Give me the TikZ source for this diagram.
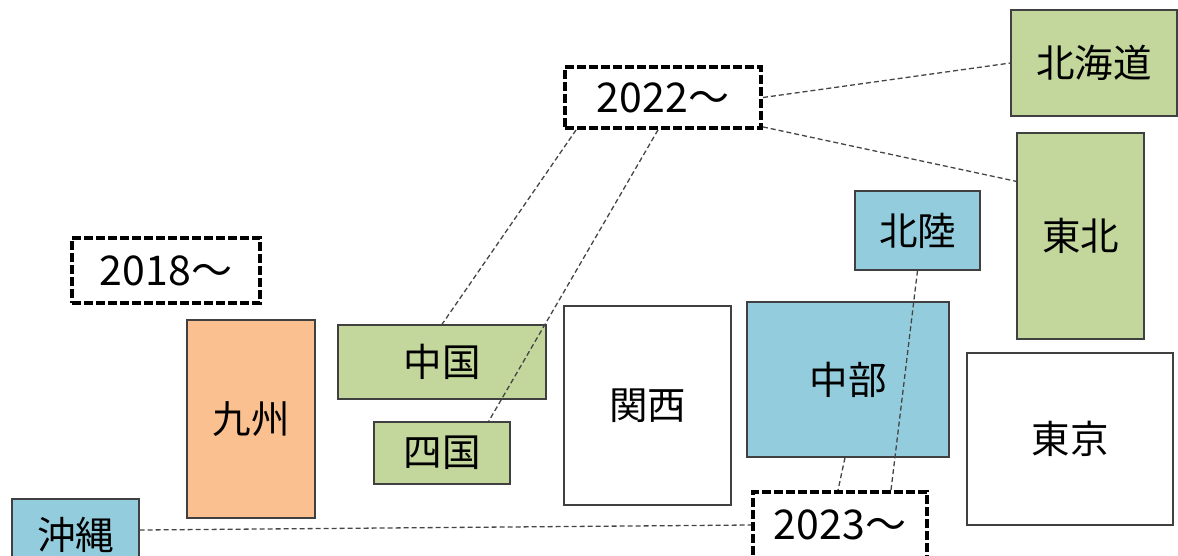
\documentclass[tikz,border=0pt]{standalone}
\usepackage{fontspec}
\newfontfamily\jp{Noto Sans CJK JP}
\usetikzlibrary{calc}
\definecolor{regGreen}{HTML}{C3D69B}
\definecolor{regBlue}{HTML}{93CDDD}
\definecolor{regOrange}{HTML}{FAC090}
\definecolor{edgeGray}{HTML}{404040}
\definecolor{linkGray}{HTML}{454545}
\tikzset{
  region/.style={draw=edgeGray, line width=1.3pt, inner sep=0pt, font=\jp\fontsize{38.5}{42}\selectfont, text=black},
  yearbox/.style={draw=black, fill=white, line width=3.8pt, dash pattern=on 9pt off 3pt, inner sep=0pt, font=\jp\fontsize{41}{44}\selectfont},
  link/.style={draw=linkGray, line width=1.3pt, dash pattern=on 5pt off 3pt}
}
\begin{document}
\begin{tikzpicture}[x=1pt,y=-1pt]
\useasboundingbox (0,0) rectangle (1178,555);
\clip (0,0) rectangle (1178,555);
% regions
\node[region, fill=regGreen, minimum width=166pt, minimum height=106pt] (hokkaido) at (1094,63) {北海道};
\node[region, fill=regGreen, minimum width=127pt, minimum height=206pt] (tohoku) at (1080.5,236) {東北};
\node[region, fill=regBlue, minimum width=125pt, minimum height=79pt] (hokuriku) at (917.5,230.5) {北陸};
\node[region, fill=regBlue, minimum width=202pt, minimum height=155pt] (chubu) at (848,379.5) {中部};
\node[region, fill=white, minimum width=206pt, minimum height=172pt] (tokyo) at (1070,439) {東京};
\node[region, fill=regOrange, minimum width=128pt, minimum height=198pt] (kyushu) at (251,419) {九州};
\node[region, fill=white, minimum width=167pt, minimum height=199pt] (kansai) at (647.5,405.5) {関西};
\node[region, fill=regGreen, minimum width=208pt, minimum height=74pt] (chugoku) at (442,362) {中国};
\node[region, fill=regGreen, minimum width=136pt, minimum height=62pt] (shikoku) at (442,453) {四国};
\node[region, fill=regBlue, minimum width=127pt, minimum height=72pt] (okinawa) at (75.5,535) {沖縄};
% year boxes
\node[yearbox, minimum width=196pt, minimum height=61pt] (y2022) at (663,97.5) {2022～};
\node[yearbox, minimum width=188pt, minimum height=65pt] (y2018) at (166,270.5) {2018～};
\node[yearbox, minimum width=174pt, minimum height=66pt] (y2023) at (840,525) {2023～};
% connectors
\draw[link] (y2022.east) -- (hokkaido.west);
\draw[link] ([yshift=3pt]y2022.south east) -- ([yshift=-49pt]tohoku.north west);
\draw[link] ([xshift=13pt]y2022.south west) -- (chugoku.north);
\draw[link] ([xshift=-5pt]y2022.south) -- ([xshift=-22pt]shikoku.north east);
\draw[link] (hokuriku.south) -- ([xshift=51pt]y2023.north);
\draw[link] ([xshift=-3pt]chubu.south) -- ([xshift=-2pt]y2023.north);
\draw[link] ([yshift=5pt]okinawa.east) -- (y2023.west);
\end{tikzpicture}
\end{document}
